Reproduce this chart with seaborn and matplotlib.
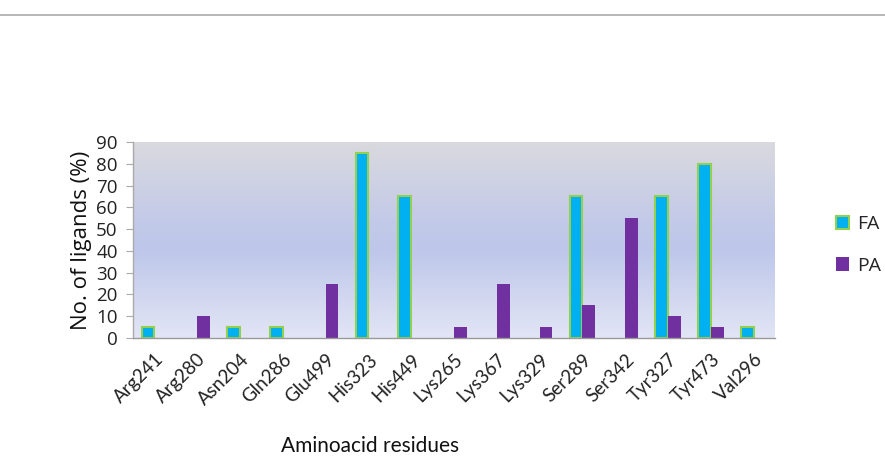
import numpy as np
import pandas as pd
import matplotlib
matplotlib.use('Agg')
import matplotlib.pyplot as plt
import matplotlib.transforms as mtransforms
import seaborn as sns
from matplotlib.colors import LinearSegmentedColormap
from matplotlib.patches import Patch

# chart data
residues = ['Arg241', 'Arg280', 'Asn204', 'Gln286', 'Glu499', 'His323', 'His449', 'Lys265',
            'Lys367', 'Lys329', 'Ser289', 'Ser342', 'Tyr327', 'Tyr473', 'Val296']
fa_values = [5, 0, 5, 5, 0, 85, 65, 0, 0, 0, 65, 0, 65, 80, 5]
pa_values = [0, 10, 0, 0, 25, 0, 0, 5, 25, 5, 15, 55, 10, 5, 0]
series_names = ['FA', 'PA']
y_ticks = list(range(0, 91, 10))

df = pd.DataFrame({
    'Residue': residues * 2,
    'Series': ['FA'] * len(residues) + ['PA'] * len(residues),
    'Value': fa_values + pa_values,
})

sns.set_style('white')
plt.rcParams['font.family'] = ['Open Sans', 'DejaVu Sans']

fig = plt.figure(figsize=(8.85, 4.72), dpi=100)
ax = fig.add_axes([133 / 885, 1 - 338 / 472, 642 / 885, 196 / 472])

# gradient plot area background
cmap = LinearSegmentedColormap.from_list('bg', [(0, '#e2e5f5'), (0.45, '#bec7ea'), (0.6, '#c3cae8'), (1, '#d9d9de')])
grad = np.linspace(0, 1, 256).reshape(-1, 1)
ax.imshow(grad, cmap=cmap, aspect='auto', extent=[0, 1, 0, 1], transform=ax.transAxes,
          origin='lower', zorder=0)

sns.barplot(data=df, x='Residue', y='Value', hue='Series', hue_order=series_names,
            palette={'FA': '#00b0f0', 'PA': '#7030a0'}, width=0.6, ax=ax,
            legend=False, zorder=2, saturation=1)

# green edge on FA bars
for p in ax.containers[0]:
    if p.get_height() > 0:
        p.set_edgecolor('#92d050')
        p.set_linewidth(1.5)
for p in ax.containers[1]:
    p.set_edgecolor('none')

ax.set_ylim(0, 90)
ax.set_xlim(-0.5, len(residues) - 0.5)
ax.set_yticks(y_ticks)
ax.set_yticklabels([str(t) for t in y_ticks], fontsize=13.5, color='#222222')
ax.set_xticks(range(len(residues)))
ax.set_xticklabels(residues, rotation=45, ha='right', rotation_mode='anchor',
                   fontsize=13.5, family=['Lato', 'DejaVu Sans'], color='#222222')
# nudge the slanted labels a little right, like the original
shift = mtransforms.ScaledTranslation(6 / 100, 0, fig.dpi_scale_trans)
for lbl in ax.get_xticklabels():
    lbl.set_transform(lbl.get_transform() + shift)
ax.tick_params(axis='y', length=5, color='#aaaaaa', pad=6, left=True)
ax.tick_params(axis='x', length=0, pad=9)
ax.set_xlabel('')
ax.set_ylabel('No. of ligands (%)', fontsize=16, color='#111111', labelpad=3)

for s in ['top', 'right']:
    ax.spines[s].set_visible(False)
ax.spines['left'].set_color('#aaaaaa')
ax.spines['bottom'].set_color('#999999')
ax.spines['left'].set_linewidth(1)
ax.spines['bottom'].set_linewidth(1)

fig.text(370 / 885, 1 - 446 / 472, 'Aminoacid residues', ha='center', va='center',
         fontsize=15, family=['Lato', 'DejaVu Sans'], color='#111111')

handles = [Patch(facecolor='#00b0f0', edgecolor='#92d050', linewidth=1.5, label='FA'),
           Patch(facecolor='#7030a0', edgecolor='none', label='PA')]
fig.legend(handles=handles, loc='center left', bbox_to_anchor=(818 / 885, 1 - 245 / 472),
           frameon=False, fontsize=14, handlelength=0.7, handleheight=0.7,
           handletextpad=0.4, labelspacing=1.2)

# thin grey rule across the top
fig.add_artist(plt.Line2D([0, 1], [1 - 15 / 472, 1 - 15 / 472], color='#aaaaaa', linewidth=1.2))

fig.savefig('out.png', dpi=100)
